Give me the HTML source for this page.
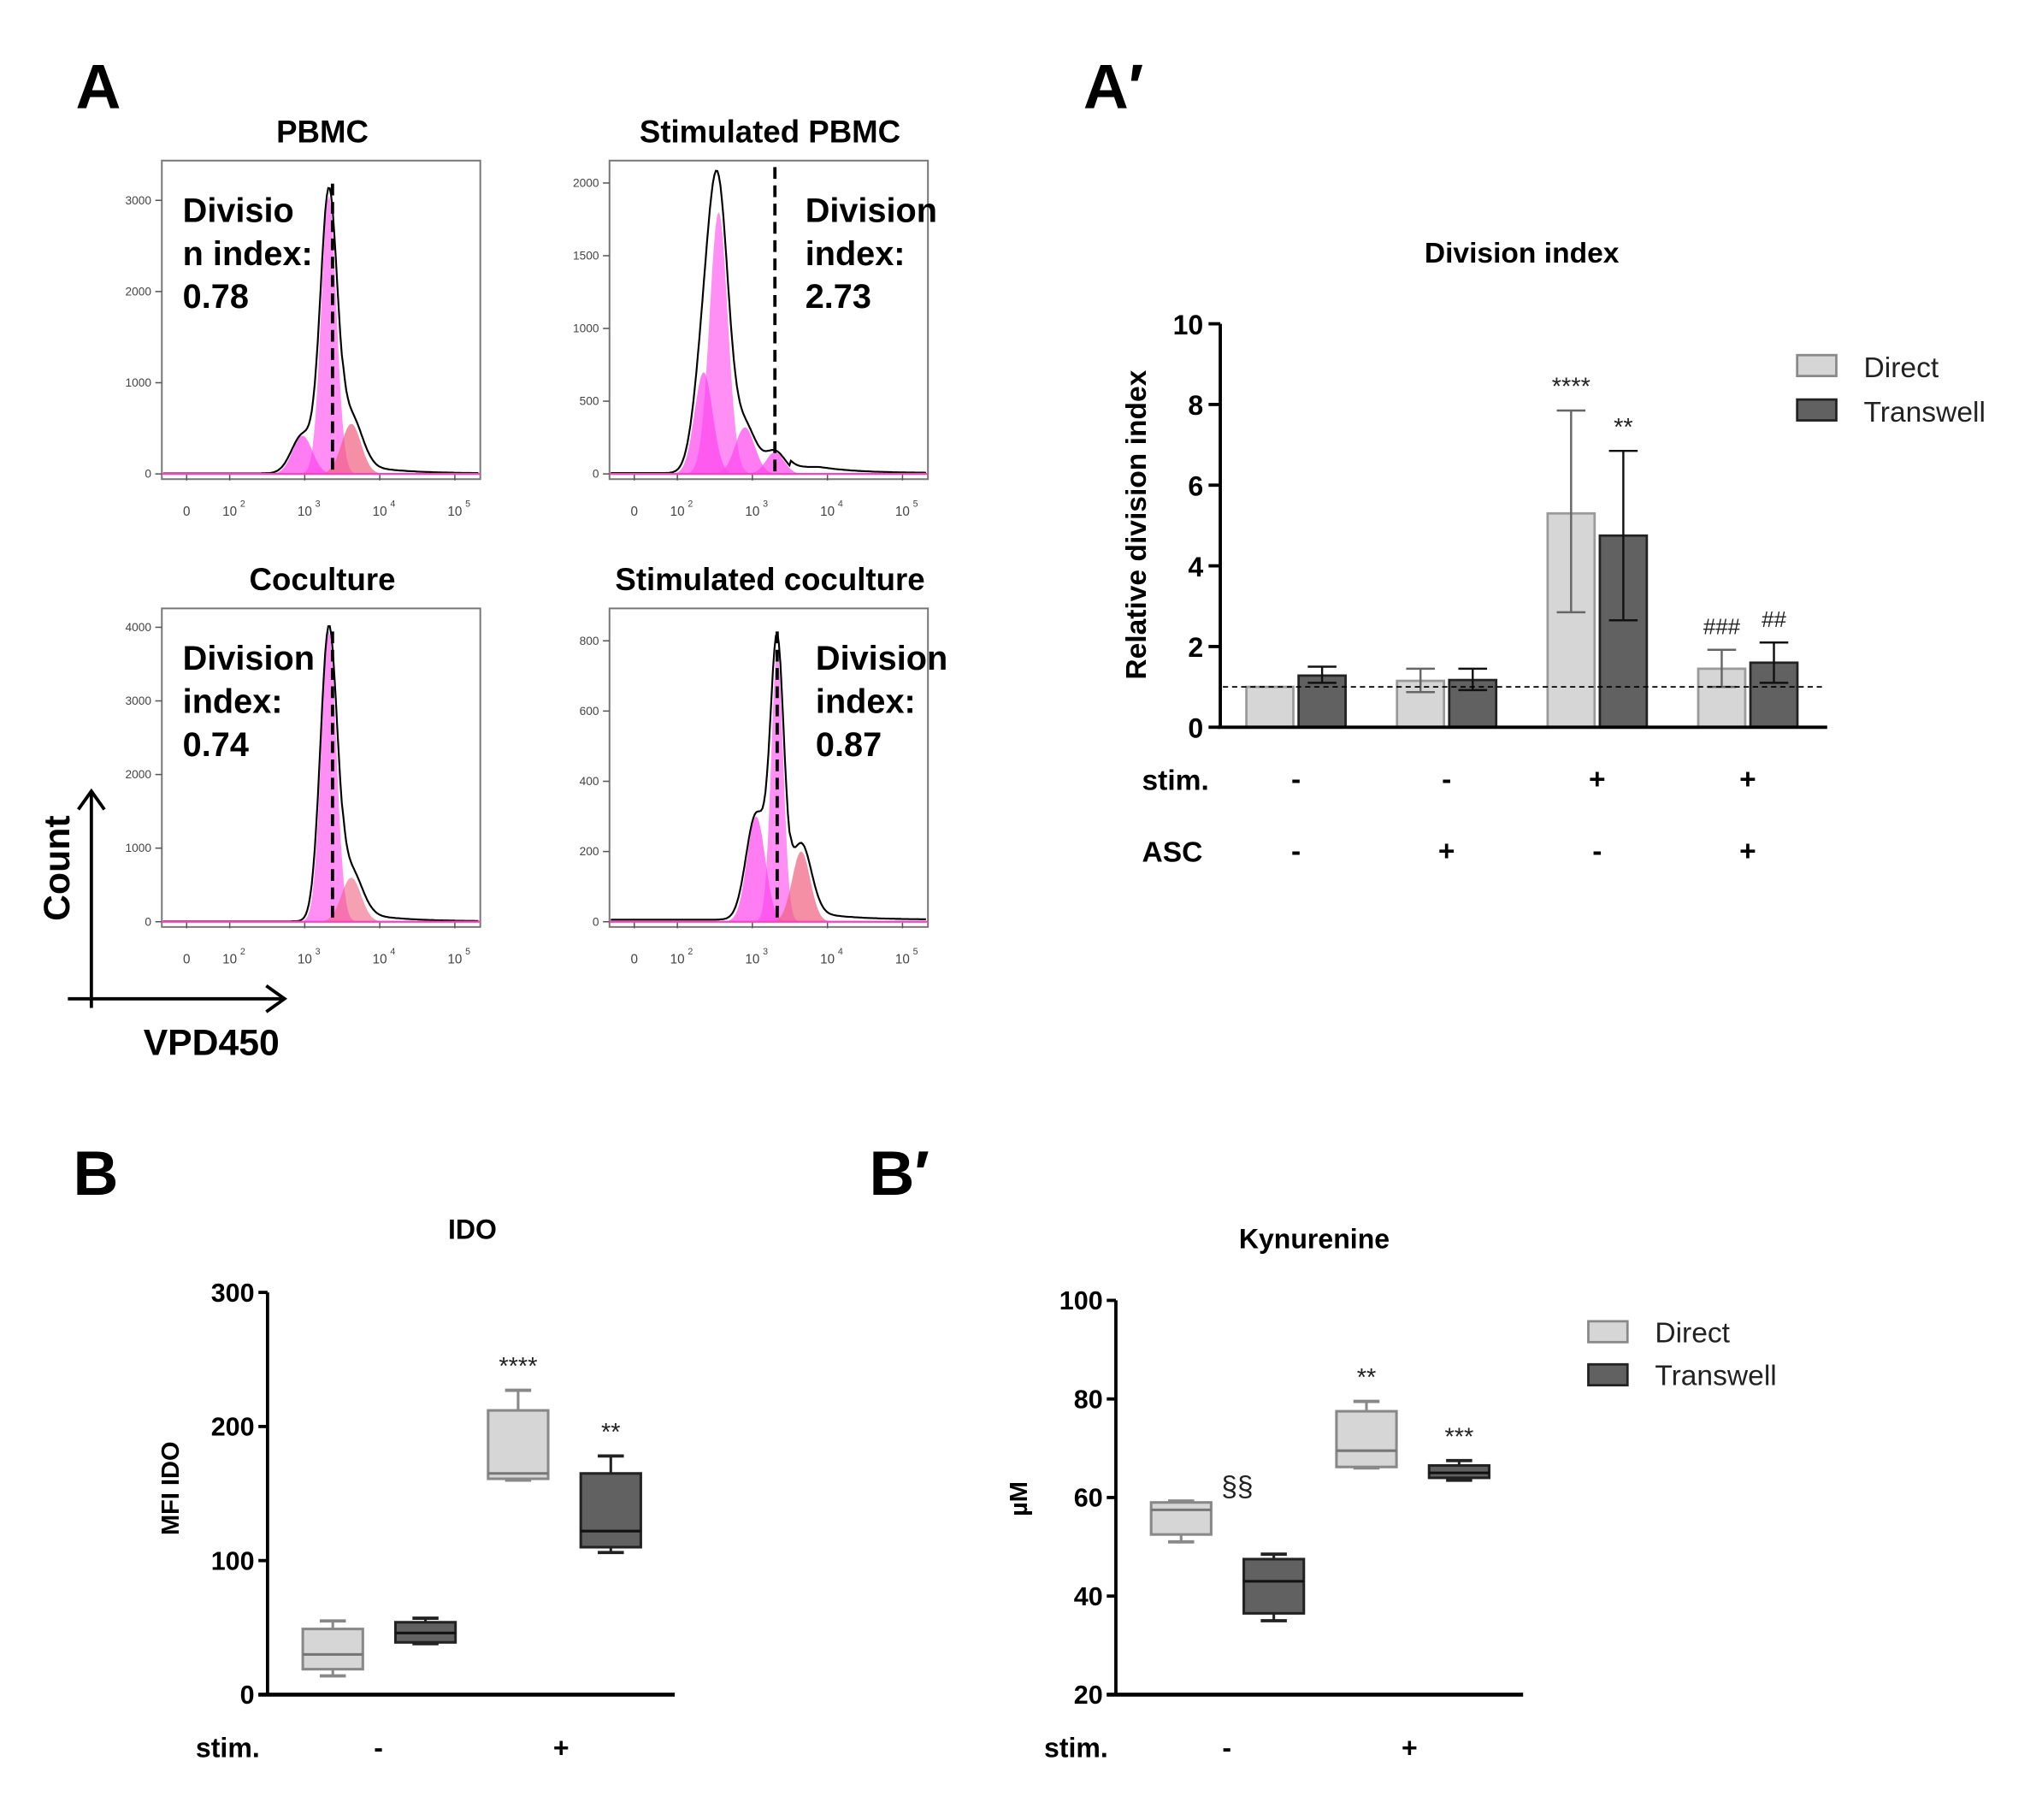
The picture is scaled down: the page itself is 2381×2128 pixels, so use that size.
<!DOCTYPE html>
<html><head><meta charset="utf-8"><style>
html,body{margin:0;padding:0;background:#fff;}
svg{display:block;font-family:"Liberation Sans",Arial,sans-serif;}
.b{font-weight:bold;}
</style></head><body>
<svg id="fig" width="2381" height="2128" viewBox="0 0 1560 1394" preserveAspectRatio="none" xmlns="http://www.w3.org/2000/svg">
<g>
<text x="58" y="83" class="b" font-size="48">A</text>
<text x="830" y="83" class="b" font-size="48">A′</text>
<text x="56" y="915" class="b" font-size="48">B</text>
<text x="666" y="915" class="b" font-size="48">B′</text>
</g>
<g id="hist"></g>
<g stroke="#000" stroke-width="2.5" fill="none">
<line x1="70" y1="772" x2="70" y2="606"/><polyline points="60,620 70,606 80,620"/>
<line x1="52" y1="765" x2="218" y2="765"/><polyline points="204,755 218,765 204,775"/>
</g>
<text transform="translate(53,665) rotate(-90)" text-anchor="middle" class="b" font-size="28">Count</text>
<text x="162" y="808" text-anchor="middle" class="b" font-size="28">VPD450</text>
<g id="bars"></g>
<g id="ido"></g>
<g id="kyn"></g>
</svg>
<script>
// ---------- Histogram data ----------
const histTitles = ["PBMC","Stimulated PBMC","Coculture","Stimulated coculture"];
const histIndexText = [["Divisio","n index:","0.78"],["Division","index:","2.73"],["Division","index:","0.74"],["Division","index:","0.87"]];
const histYTicks = [[0,1000,2000,3000],[0,500,1000,1500,2000],[0,1000,2000,3000,4000],[0,200,400,600,800]];
const histYMax = [3350,2100,4150,870];
const pbmcCenters = [2.97,3.32,3.62];
const pbmcHeights = [420,3050,550];
const pbmcWidths = [0.13,0.1,0.13];
const stimPbmcCenters = [2.35,2.55,2.9,3.3];
const stimPbmcHeights = [700,1800,320,150];
const stimPbmcWidths = [0.12,0.12,0.13,0.12];
const cocCenters = [3.32,3.62];
const cocHeights = [3950,600];
const cocWidths = [0.1,0.13];
const stimCocCenters = [3.05,3.33,3.65];
const stimCocHeights = [300,770,200];
const stimCocWidths = [0.12,0.08,0.12];
const histDivide = [3.37,3.3,3.37,3.33];

const NS="http://www.w3.org/2000/svg";
function mk(parent,tag,attrs,text){const e=document.createElementNS(NS,tag);for(const k in attrs)e.setAttribute(k,attrs[k]);if(text!==undefined)e.textContent=text;parent.appendChild(e);return e;}

const hist=document.getElementById('hist');
const boxes=[[124,123],[467,123],[124,466],[467,466]];
const peakSets=[[pbmcCenters,pbmcHeights,pbmcWidths],[stimPbmcCenters,stimPbmcHeights,stimPbmcWidths],[cocCenters,cocHeights,cocWidths],[stimCocCenters,stimCocHeights,stimCocWidths]];
const textX=[140,617,140,625];
boxes.forEach((b,i)=>{
  const bx=b[0],by=b[1],W=244,H=244,base=by+240;
  const g=mk(hist,'g',{});
  
  
  const xs=l=>bx+52+(l-2)*57.5;
  const ys=v=>base-v/histYMax[i]*(H-10);
  const t=mk(g,'text',{x:bx+123,y:by-14,'text-anchor':'middle','class':'b','font-size':24},histTitles[i]);
  
  
  mk(g,'rect',{x:bx,y:by,width:W,height:H,fill:'#fff',stroke:'#777','stroke-width':1.3});
  histYTicks[i].forEach(v=>{mk(g,'line',{x1:bx-5,x2:bx,y1:ys(v),y2:ys(v),stroke:'#555'});
    mk(g,'text',{x:bx-8,y:ys(v)+3,'text-anchor':'end','font-size':9,fill:'#444'},v);});
  const xl=[["0",-0.6],["10",2],["10",3],["10",4],["10",5]];
  xl.forEach((p,k)=>{const x=k==0?bx+19:xs(p[1]);
    mk(g,'text',{x:x,y:by+272,'text-anchor':'middle','font-size':10,fill:'#444'},p[0]);
    if(k>0)mk(g,'text',{x:x+8,y:by+265,'font-size':7,fill:'#444'},p[1]);
    mk(g,'line',{x1:x,x2:x,y1:base,y2:base+5,stroke:'#555'});});
  const [C,Hh,Wd]=peakSets[i];
  const cols=C.map((c,k)=>(k==C.length-1&&i!=1)?'#f06080':'#ff44ee');
  C.forEach((c,k)=>{let d='M'+xs(c-4*Wd[k])+','+base;
    for(let l=c-4*Wd[k];l<=c+4*Wd[k];l+=0.02)d+=' L'+xs(l).toFixed(1)+','+ys(Hh[k]*Math.exp(-0.5*((l-c)/Wd[k])**2)).toFixed(1);
    d+=' L'+xs(c+4*Wd[k])+','+base+'Z';
    mk(g,'path',{d:d,fill:cols[k],'fill-opacity':k==1||C.length==2&&k==0?0.6:0.7});});
  let d='';
  const l0=2-51/57.5,l1=2+191/57.5;
  for(let l=l0;l<=l1;l+=0.02){let v=6;C.forEach((c,k)=>{v+=Hh[k]*Math.exp(-0.5*((l-c)/(Wd[k]*1.12))**2);});
    const tail=Math.exp(-Math.max(0,l-3.9)*2)*histYMax[i]*0.02*(l>3.5?1:0);v+=tail;
    d+=(d?' L':'M')+xs(l).toFixed(1)+','+Math.min(base,ys(v)).toFixed(1);}
  mk(g,'path',{d:d,fill:'none',stroke:'#000','stroke-width':1.4});
  mk(g,'line',{x1:bx,x2:bx+W,y1:base,y2:base,stroke:'#ff40c0','stroke-width':1.5});
  const dx=xs(histDivide[i]);
  mk(g,'line',{x1:dx,x2:dx,y1:i==1?by+5:ys(histYMax[i]*0.95),y2:base,stroke:'#000','stroke-width':2.5,'stroke-dasharray':'9,5'});
  histIndexText[i].forEach((s,k)=>{mk(g,'text',{x:textX[i],y:by+47+k*33,'class':'b','font-size':26},s);});
});

// ---------- Division index bar chart ----------
const groups=["g1","g2","g3","g4"];
const stimSigns=["-","-","+","+"];
const ascSigns=["-","+","-","+"];
const directVals=[1.0,1.15,5.3,1.45];
const directHi=[1.0,1.45,7.85,1.92];
const directLo=[1.0,0.87,2.85,1.0];
const transVals=[1.28,1.17,4.75,1.6];
const transHi=[1.5,1.45,6.85,2.1];
const transLo=[1.1,0.92,2.65,1.1];
const barYTicks=[0,2,4,6,8,10];
const directSig=["","","****","###"];
const transSig=["","","**","##"];
(function(){
  const g=document.getElementById('bars');
  const y=v=>557-v*30.9;
  const cx=k=>993+k*115.4;
  mk(g,'text',{x:1166,y:201,'text-anchor':'middle','class':'b','font-size':22},'Division index');
  const yl=mk(g,'text',{transform:'translate(878,402) rotate(-90)','text-anchor':'middle','class':'b','font-size':22},'Relative division index');
  
  
  groups.forEach((gname,k)=>{
    const c=cx(k);
    [[directVals,directHi,directLo,'#d6d6d6','#9a9a9a',c-38,directSig],[transVals,transHi,transLo,'#616161','#222',c+2,transSig]].forEach((s,j)=>{
      const r=mk(g,'rect',{x:s[5],y:y(s[0][k]),width:36,height:y(0)-y(s[0][k]),fill:s[3],stroke:s[4],'stroke-width':1.8});
      
      
      const m=s[5]+18,ec=j?'#111':'#666';
      if(s[1][k]>s[2][k]){
        mk(g,'line',{x1:m,x2:m,y1:y(s[1][k]),y2:y(s[2][k]),stroke:ec,'stroke-width':1.6});
        mk(g,'line',{x1:m-11,x2:m+11,y1:y(s[1][k]),y2:y(s[1][k]),stroke:ec,'stroke-width':1.6});
        mk(g,'line',{x1:m-11,x2:m+11,y1:y(s[2][k]),y2:y(s[2][k]),stroke:ec,'stroke-width':1.6});}
      if(s[6][k])mk(g,'text',{x:m,y:y(s[1][k])-12,'text-anchor':'middle','font-size':s[6][k].startsWith('#')?17:19,fill:'#222'},s[6][k]);
    });
    mk(g,'text',{x:c,y:604,'text-anchor':'middle','class':'b','font-size':22},stimSigns[k]);
    mk(g,'text',{x:c,y:659,'text-anchor':'middle','class':'b','font-size':22},ascSigns[k]);
  });
  mk(g,'line',{x1:937,x2:1398,y1:y(1),y2:y(1),stroke:'#000','stroke-width':1.2,'stroke-dasharray':'4,3'});
  mk(g,'line',{x1:935,x2:935,y1:248,y2:558,stroke:'#000','stroke-width':2.5});
  mk(g,'line',{x1:933,x2:1400,y1:557,y2:557,stroke:'#000','stroke-width':2.5});
  barYTicks.forEach(v=>{mk(g,'line',{x1:926,x2:935,y1:y(v),y2:y(v),stroke:'#000','stroke-width':2.5});
    mk(g,'text',{x:922,y:y(v)+8,'text-anchor':'end','class':'b','font-size':21},v);});
  mk(g,'text',{x:875,y:605,'class':'b','font-size':22},'stim.');
  mk(g,'text',{x:875,y:660,'class':'b','font-size':22},'ASC');
  const lg=mk(g,'g',{});
  
  
  mk(lg,'rect',{x:1377,y:272,width:30,height:16,fill:'#d6d6d6',stroke:'#888','stroke-width':1.8});
  mk(lg,'text',{x:1428,y:289,'font-size':22,fill:'#222'},'Direct');
  mk(lg,'rect',{x:1377,y:306,width:30,height:16,fill:'#616161',stroke:'#222','stroke-width':1.8});
  mk(lg,'text',{x:1428,y:323,'font-size':22,fill:'#222'},'Transwell');
})();

// ---------- Box plots ----------
const idoMin=[14,38,160,106];
const idoQ1=[19,39,161,110];
const idoMed=[30,46,165,122];
const idoQ3=[49,54,212,165];
const idoMax=[55,57,227,178];
const idoSig=["","","****","**"];
const idoTicks=[0,100,200,300];
const kynMin=[51,35,66,63.5];
const kynQ1=[52.5,36.5,66.2,64];
const kynMed=[57.5,43,69.5,65];
const kynQ3=[59,47.5,77.5,66.5];
const kynMax=[59.3,48.5,79.5,67.5];
const kynSig=["","§§","**","***"];
const kynTicks=[20,40,60,80,100];
const boxStim=["-","+"];
function boxChart(id,o){
  const g=document.getElementById(id);
  const y=v=>o.y0-(v-o.vmin)*o.k;
  mk(g,'text',{x:o.tx,y:o.ty,'text-anchor':'middle','class':'b','font-size':21},o.title);
  const yl=mk(g,'text',{transform:'translate('+o.lx+','+o.ly+') rotate(-90)','text-anchor':'middle','class':'b','font-size':19},o.ylabel);
  
  
  o.mins.forEach((mn,i)=>{
    const c=o.ax+50+i*71,dir=i%2==0;
    const fill=dir?'#d6d6d6':'#616161',st=dir?'#888':'#222';
    mk(g,'line',{x1:c,x2:c,y1:y(o.maxs[i]),y2:y(mn),stroke:st,'stroke-width':2});
    mk(g,'line',{x1:c-10,x2:c+10,y1:y(o.maxs[i]),y2:y(o.maxs[i]),stroke:st,'stroke-width':2.5});
    mk(g,'line',{x1:c-10,x2:c+10,y1:y(mn),y2:y(mn),stroke:st,'stroke-width':2.5});
    const r=mk(g,'rect',{x:c-23,y:y(o.q3[i]),width:46,height:y(o.q1[i])-y(o.q3[i]),fill:fill,stroke:st,'stroke-width':2});
    
    
    mk(g,'line',{x1:c-23,x2:c+23,y1:y(o.med[i]),y2:y(o.med[i]),stroke:dir?'#777':'#111','stroke-width':2});
    if(o.sig[i]){const top=o.sig[i]=='§§'?o.maxs[i-1]:o.maxs[i];
      mk(g,'text',{x:o.sig[i]=='§§'?c-28:c,y:y(top)-(o.sig[i]=='§§'?4:12),'text-anchor':'middle','font-size':o.sig[i]=='§§'?22:19,fill:'#222'},o.sig[i]);}
  });
  mk(g,'line',{x1:o.ax,x2:o.ax,y1:y(o.ticks[o.ticks.length-1]),y2:o.y0+1,stroke:'#000','stroke-width':2.5});
  mk(g,'line',{x1:o.ax-7,x2:o.ax+312,y1:o.y0,y2:o.y0,stroke:'#000','stroke-width':3});
  o.ticks.forEach(v=>{mk(g,'line',{x1:o.ax-7,x2:o.ax,y1:y(v),y2:y(v),stroke:'#000','stroke-width':2.5});
    mk(g,'text',{x:o.ax-10,y:y(v)+7,'text-anchor':'end','class':'b','font-size':20},v);});
  mk(g,'text',{x:o.ax-55,y:1346,'class':'b','font-size':21},'stim.');
  boxStim.forEach((s,j)=>mk(g,'text',{x:o.ax+85+j*140,y:1346,'text-anchor':'middle','class':'b','font-size':21},s));
}
boxChart('ido',{ax:205,y0:1298,vmin:0,k:1.027,mins:idoMin,q1:idoQ1,med:idoMed,q3:idoQ3,maxs:idoMax,sig:idoSig,ticks:idoTicks,title:'IDO',tx:362,ty:949,ylabel:'MFI IDO',lx:137,ly:1140});
boxChart('kyn',{ax:855,y0:1298,vmin:20,k:3.775,mins:kynMin,q1:kynQ1,med:kynMed,q3:kynQ3,maxs:kynMax,sig:kynSig,ticks:kynTicks,title:'Kynurenine',tx:1007,ty:956,ylabel:'µM',lx:787,ly:1148});
(function(){const g=document.getElementById('kyn');
  const lg=mk(g,'g',{});
  
  
  mk(lg,'rect',{x:1217,y:1012,width:30,height:16,fill:'#d6d6d6',stroke:'#888','stroke-width':1.8});
  mk(lg,'text',{x:1268,y:1028,'font-size':22,fill:'#222'},'Direct');
  mk(lg,'rect',{x:1217,y:1045,width:30,height:16,fill:'#616161',stroke:'#222','stroke-width':1.8});
  mk(lg,'text',{x:1268,y:1061,'font-size':22,fill:'#222'},'Transwell');})();
</script>
</body></html>
